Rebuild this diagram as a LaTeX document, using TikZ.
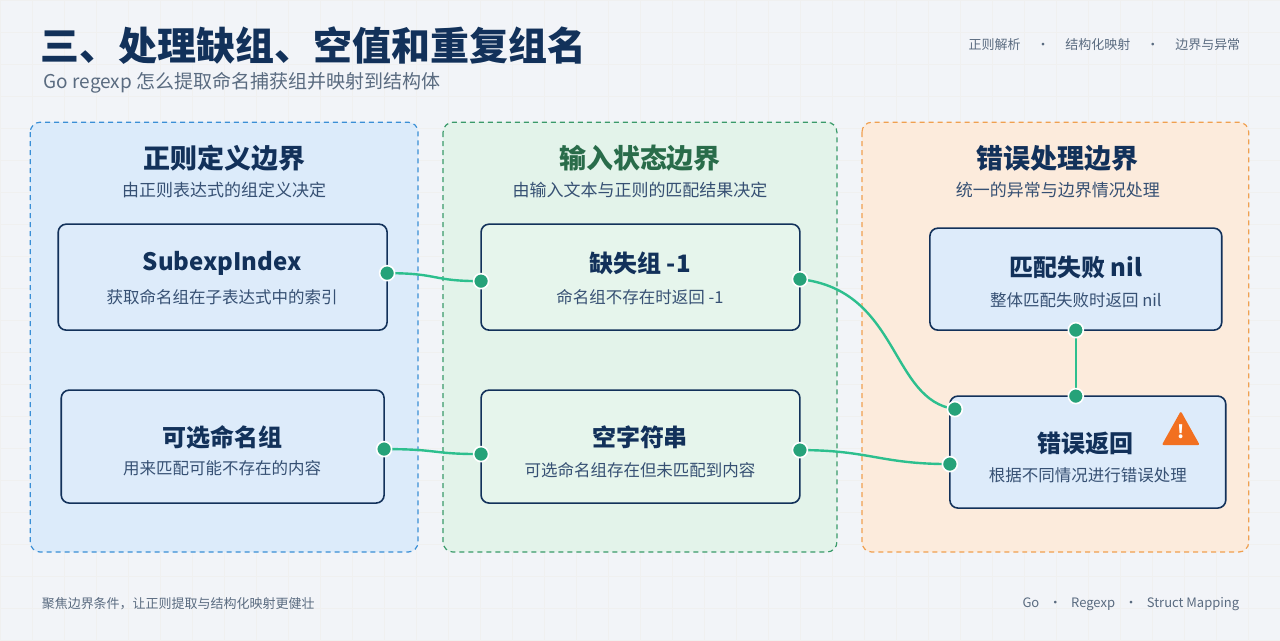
\documentclass[tikz,border=0pt]{standalone}
\usepackage{fontspec}
\setmainfont{Noto Sans CJK SC}
\usetikzlibrary{positioning,calc}
\definecolor{navy}{HTML}{12315A}
\definecolor{greytext}{HTML}{5A6B80}
\definecolor{linkgreen}{HTML}{2DBF8E}
\definecolor{bluepanel}{HTML}{DCEBFA}
\definecolor{greenpanel}{HTML}{E3F3EA}
\definecolor{orangepanel}{HTML}{FCEBDC}
\definecolor{bluedash}{HTML}{3A8FD6}
\definecolor{greendash}{HTML}{3A9A6A}
\definecolor{orangedash}{HTML}{F0A050}
\definecolor{cardfill}{HTML}{DDEBFA}
\definecolor{greencard}{HTML}{E6F5EC}
\definecolor{warnorange}{HTML}{F27020}
\definecolor{pagebg}{HTML}{F2F4F8}

\begin{document}
\begin{tikzpicture}[
  x=1pt, y=-1pt,
  panel/.style={draw, dashed, line width=1.2pt, rounded corners=10pt, dash pattern=on 5pt off 4pt},
  card/.style={draw=navy, line width=1.6pt, rounded corners=8pt, fill=cardfill},
  gcard/.style={card, fill=greencard},
  ptitle/.style={font=\bfseries\fontsize{27}{31}\selectfont, text=navy},
  psub/.style={font=\fontsize{17}{20}\selectfont, text=navy!85},
  ctitle/.style={font=\bfseries\fontsize{24}{28}\selectfont, text=navy},
  csub/.style={font=\fontsize{16.5}{19}\selectfont, text=navy!85},
  dot/.style={circle, fill=linkgreen!85!black, draw=white, line width=1.6pt, inner sep=0pt, minimum size=15pt},
  link/.style={draw=linkgreen, line width=2.4pt}
]
% background and grid
\fill[pagebg] (0,0) rectangle (1280,640);
\draw[black!6, line width=0.5pt] (0,0) grid[step=32pt] (1280,640);
\useasboundingbox (0,0) rectangle (1280,640);

% header
\node[anchor=west, text=navy, font=\bfseries\fontsize{39}{44}\selectfont] (title) at (37,45) {三、处理缺组、空值和重复组名};
\node[anchor=west, text=greytext, font=\fontsize{19}{22}\selectfont] (subtitle) at (40,83) {Go regexp 怎么提取命名捕获组并映射到结构体};
\node[anchor=east, text=greytext, font=\fontsize{13}{16}\selectfont] (tags) at (1244,44) {正则解析 \quad · \quad 结构化映射 \quad · \quad 边界与异常};

% panels
\draw[panel, draw=bluedash, fill=bluepanel] (30,122) rectangle (418,552);
\draw[panel, draw=greendash, fill=greenpanel] (443,122) rectangle (837,552);
\draw[panel, draw=orangedash, fill=orangepanel] (862,122) rectangle (1249,552);

\node[ptitle] (t1) at (224,158) {正则定义边界};
\node[psub] (s1) at (224,190) {由正则表达式的组定义决定};
\node[ptitle, text=greendash!70!black] (t2) at (640,158) {输入状态边界};
\node[psub] (s2) at (640,190) {由输入文本与正则的匹配结果决定};
\node[ptitle] (t3) at (1058,158) {错误处理边界};
\node[psub] (s3) at (1058,190) {统一的异常与边界情况处理};

% cards
\draw[card] (58,224) rectangle (387,330);
\node[ctitle] (subexp) at (222,263) {SubexpIndex};
\node[csub] at (222,297) {获取命名组在子表达式中的索引};

\draw[card] (61,390) rectangle (384,503);
\node[ctitle] (optional) at (222,437) {可选命名组};
\node[csub] at (222,468) {用来匹配可能不存在的内容};

\draw[gcard] (481,224) rectangle (800,330);
\node[ctitle] (missing) at (640,263) {缺失组 -1};
\node[csub] at (640,297) {命名组不存在时返回 -1};

\draw[gcard] (481,390) rectangle (800,503);
\node[ctitle] (empty) at (640,437) {空字符串};
\node[csub] at (640,470) {可选命名组存在但未匹配到内容};

\draw[card] (930,228) rectangle (1222,330);
\node[ctitle] (nilfail) at (1076,267) {匹配失败 nil};
\node[csub] at (1076,300) {整体匹配失败时返回 nil};

\draw[card] (950,396) rectangle (1226,508);
\node[ctitle] (errret) at (1086,443) {错误返回};
\node[csub] at (1088,475) {根据不同情况进行错误处理};
\fill[warnorange, rounded corners=2pt] (1181,411) -- (1200,445) -- (1162,445) -- cycle;
\node[text=white, font=\bfseries\fontsize{18}{18}\selectfont] (warn) at (1181,432) {!};

% connector end points
\coordinate (a1) at (387,273);
\coordinate (a2) at (481,281);
\coordinate (b1) at (384,449);
\coordinate (b2) at (481,454);
\coordinate (c1) at (800,279);
\coordinate (c2) at (955,409);
\coordinate (d1) at (800,450);
\coordinate (d2) at (950,464);
\coordinate (e1) at (1076,330);
\coordinate (e2) at (1076,396);

% connectors
\draw[link] (a1) .. controls (440,273) and (430,281) .. (a2);
\draw[link] (b1) .. controls (440,449) and (430,454) .. (b2);
\draw[link] (c1) .. controls (900,290) and (890,400) .. (c2);
\draw[link] (d1) .. controls (870,450) and (880,464) .. (d2);
\draw[link] (e1) -- (e2);
\foreach \n in {a1,a2,b1,b2,c1,c2,d1,d2,e1,e2}
  \node[dot] at (\n) {};

% footer
\node[anchor=west, text=greytext, font=\fontsize{13}{16}\selectfont] (foot) at (38,604) {聚焦边界条件，让正则提取与结构化映射更健壮};
\node[anchor=east, text=greytext, font=\fontsize{13}{16}\selectfont] (footr) at (1243,604) {Go \enspace · \enspace Regexp \enspace · \enspace Struct Mapping};
\end{tikzpicture}
\end{document}
